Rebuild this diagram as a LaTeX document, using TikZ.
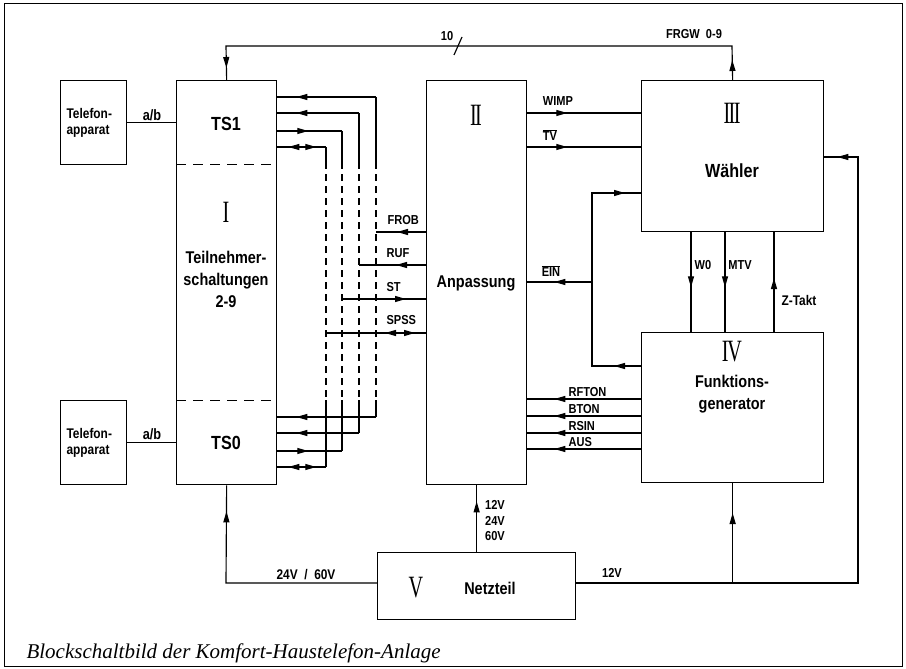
\documentclass[tikz,border=0pt]{standalone}
\usepackage{fontspec}
\setmainfont{Liberation Serif}
\newfontfamily\lab[FakeStretch=0.85]{Liberation Sans}
\newfontfamily\rom[FakeStretch=0.65]{Liberation Serif}
\usetikzlibrary{arrows.meta,decorations.markings,calc}
\newcommand{\ovl}[1]{$\overline{\mbox{#1}}$}
\begin{document}
\begin{tikzpicture}[x=1pt,y=-1pt,line width=1.15pt,
  blk/.style={draw,line width=1.3pt,inner sep=0pt,anchor=north west},
  sl/.style={font=\lab\bfseries\fontsize{13}{15}\selectfont,inner sep=0pt},
  bl/.style={font=\lab\bfseries\fontsize{17}{22}\selectfont,inner sep=0pt,align=center},
  rn/.style={font=\rom\fontsize{31}{32}\selectfont,inner sep=0pt},
  tipat/.style={postaction={decorate},decoration={markings,mark=at position #1 with {\arrow{Triangle[length=11pt,width=6pt]}}}},
  twotip/.style 2 args={postaction={decorate},decoration={markings,
     mark=at position #1 with {\arrow{Triangle[length=11pt,width=6pt]}},
     mark=at position #2 with {\arrow{Triangle[length=11pt,width=6pt]}}}},
  dbl/.style 2 args={postaction={decorate},decoration={markings,
     mark=at position #1 with {\arrowreversed{Triangle[length=11pt,width=6pt]}},
     mark=at position #2 with {\arrow{Triangle[length=11pt,width=6pt]}}}},
  busdash/.style={dash pattern=on 7pt off 5pt},
]
\useasboundingbox (0,0) rectangle (906,669);
\fill[white] (0,0) rectangle (906,669);
\draw[line width=1pt] (4,4) rectangle (902,666);

% blocks
\node[blk,minimum width=66pt,minimum height=84pt] (tel1) at (60,80) {};
\node[blk,minimum width=66pt,minimum height=84pt] (tel2) at (60,400) {};
\node[blk,minimum width=100pt,minimum height=404pt] (ts) at (176,80) {};
\node[blk,minimum width=100pt,minimum height=404pt] (anp) at (426,80) {};
\node[blk,minimum width=182pt,minimum height=151pt] (wah) at (641,80) {};
\node[blk,minimum width=182pt,minimum height=150pt] (fg) at (641,332) {};
\node[blk,minimum width=198pt,minimum height=67pt] (net) at (377,552) {};

% texts in blocks
\node[sl,align=left,anchor=west,font=\lab\bfseries\fontsize{14}{16}\selectfont] (t1) at (66,123) {Telefon-\\apparat};
\node[sl,align=left,anchor=west,font=\lab\bfseries\fontsize{14}{16}\selectfont] (t2) at (66,443) {Telefon-\\apparat};
\node[bl,font=\lab\bfseries\fontsize{19}{22}\selectfont] (ts1) at (226,124) {TS1};
\node[bl,font=\lab\bfseries\fontsize{19}{22}\selectfont] (ts0) at (226,443) {TS0};
\node[rn] (r1) at (226,212) {I};
\node[bl] (tn) at (226,279) {Teilnehmer-\\schaltungen\\2-9};
\node[rn] (r2) at (476,115) {I\kern-1.6pt I};
\node[bl] (anpt) at (476,283) {Anpassung};
\node[rn] (r3) at (732,113) {I\kern-1.6pt I\kern-1.6pt I};
\node[bl,font=\lab\bfseries\fontsize{19}{22}\selectfont] (waht) at (732,171) {Wähler};
\node[rn] (r4) at (732,352) {I\kern-1.2pt V};
\node[bl] (fgt) at (732,394) {Funktions-\\generator};
\node[rn] (r5) at (416,588) {V};
\node[bl] (nett) at (490,588) {Netzteil};

% a/b
\draw (tel1.east) -- (tel1.east -| ts.west);
\draw (tel2.east) -- (tel2.east -| ts.west);
\node[sl,font=\lab\bfseries\fontsize{15}{17}\selectfont] (ab1) at (152,115) {a/b};
\node[sl,font=\lab\bfseries\fontsize{15}{17}\selectfont] (ab2) at (152,434) {a/b};

% dashed separators in TS
\draw[line width=1pt,dash pattern=on 10pt off 7pt] (ts.west |- 0,164) -- (ts.east |- 0,164);
\draw[line width=1pt,dash pattern=on 10pt off 7pt] (ts.west |- 0,400) -- (ts.east |- 0,400);

% bus coordinates
\coordinate (b1t) at (376,97);  \coordinate (b1b) at (376,417);
\coordinate (b2t) at (359,113); \coordinate (b2b) at (359,433);
\coordinate (b3t) at (342,131); \coordinate (b3b) at (342,451);
\coordinate (b4t) at (326,147); \coordinate (b4b) at (326,467);
\foreach \b in {b1,b2,b3,b4}{
  \draw (\b t) -- (\b t |- 0,162);
  \draw[busdash] (\b t |- 0,162) -- (\b t |- 0,400);
  \draw (\b t |- 0,400) -- (\b b);
}
% top horizontals
\draw[tipat=-19pt] (b1t) -- (ts.east |- b1t);
\draw[tipat=-19pt] (b2t) -- (ts.east |- b2t);
\draw[tipat=31pt] (ts.east |- b3t) -- (b3t);
\draw[dbl={11pt}{39pt}] (ts.east |- b4t) -- (b4t);
% bottom horizontals
\draw[tipat=-19pt] (b1b) -- (ts.east |- b1b);
\draw[tipat=-19pt] (b2b) -- (ts.east |- b2b);
\draw[tipat=31pt] (ts.east |- b3b) -- (b3b);
\draw[dbl={11pt}{39pt}] (ts.east |- b4b) -- (b4b);
% middle
\coordinate (frob) at (376,232);
\coordinate (ruf) at (359,265);
\coordinate (st) at (342,299);
\coordinate (spss) at (326,333);
\draw[tipat=29pt] (anp.west |- frob) -- (frob);
\draw[tipat=30pt] (anp.west |- ruf) -- (ruf);
\draw[tipat=-20pt] (st) -- (anp.west |- st);
\draw[dbl={59pt}{-11pt}] (spss) -- (anp.west |- spss);
\node[sl,anchor=west] (lfrob) at (387,220) {FROB};
\node[sl,anchor=west] (lruf) at (386,253) {RUF};
\node[sl,anchor=west] (lst) at (386,287) {ST};
\node[sl,anchor=west] (lspss) at (386,320) {SPSS};

% Anpassung -> Waehler
\draw[tipat=40pt] (anp.east |- 0,113) -- (wah.west |- 0,113);
\draw[tipat=40pt] (anp.east |- 0,147) -- (wah.west |- 0,147);
\node[sl] (lwimp) at (558,101) {WIMP};
\node[sl] (ltv) at (550,135) {\ovl{TV}};

% EIN
\coordinate (ej) at (592,282);
\coordinate (ec) at (592,366);
\coordinate (et) at (592,193);
\draw[tipat=27pt] (fg.west |- ec) -- (ec) -- (ej);
\draw[tipat=-27pt] (ej) -- (anp.east |- ej);
\draw[tipat=-16pt] (ej) -- (et) -- (wah.west |- et);
\node[sl] (lein) at (551,271) {\ovl{EIN}};

% FG -> Anpassung
\draw[tipat=-27pt] (fg.west |- 0,399) -- (anp.east |- 0,399);
\draw[tipat=-27pt] (fg.west |- 0,416) -- (anp.east |- 0,416);
\draw[tipat=-27pt] (fg.west |- 0,433) -- (anp.east |- 0,433);
\draw[tipat=-27pt] (fg.west |- 0,449) -- (anp.east |- 0,449);
\node[sl,anchor=west] (lrf) at (568,392) {RFTON};
\node[sl,anchor=west] (lbt) at (568,409) {BTON};
\node[sl,anchor=west] (lrs) at (568,426) {RSIN};
\node[sl,anchor=west] (lau) at (568,442) {AUS};

% Waehler <-> FG
\draw[tipat=55pt] (691,0 |- wah.south) -- (691,0 |- fg.north);
\draw[tipat=55pt] (725,0 |- wah.south) -- (725,0 |- fg.north);
\draw[tipat=54pt] (774,0 |- fg.north) -- (774,0 |- wah.south);
\node[sl] (lw0) at (703,265) {W0};
\node[sl] (lmtv) at (740,265) {MTV};
\node[sl,font=\lab\bfseries\fontsize{14}{16}\selectfont] (lzt) at (799,300) {Z-Takt};

% top bus
\coordinate (tr) at (732,46);
\coordinate (tl) at (226,46);
\draw[twotip={20pt}{-12pt}] (wah.north) -- (tr) -- (tl) -- (ts.north);
\coordinate (sl1) at (454,55);
\coordinate (sl2) at (462,37);
\draw (sl1) -- (sl2);
\node[sl] (l10) at (447,36) {10};
\node[sl] (lfrgw) at (694,34) {FRGW\ \ 0-9};

% power
\coordinate (rb) at (858,583);
\coordinate (rt) at (858,157);
\coordinate (lb) at (226,583);
\draw[tipat=-13pt] (net.east |- rb) -- (rb) -- (rt) -- (wah.east |- rt);
\draw[tipat=70pt] (fg.south |- rb) -- (fg.south);
\draw[tipat=-26pt] (net.west |- lb) -- (lb) -- (ts.south);
\draw[tipat=-16pt] (net.north) -- (anp.south);
\node[sl,font=\lab\bfseries\fontsize{14}{16}\selectfont] (l2460) at (306,575) {24V\ \ /\ \ 60V};
\node[sl] (l12r) at (612,573) {12V};
\node[sl,align=center,font=\lab\bfseries\fontsize{13}{15.5}\selectfont] (l122460) at (495,521) {12V\\24V\\60V};

% caption
\node[anchor=west,inner sep=0pt,font=\itshape\fontsize{21}{24}\selectfont] (cap) at (26,653) {Blockschaltbild der Komfort-Haustelefon-Anlage};
\end{tikzpicture}
\end{document}
